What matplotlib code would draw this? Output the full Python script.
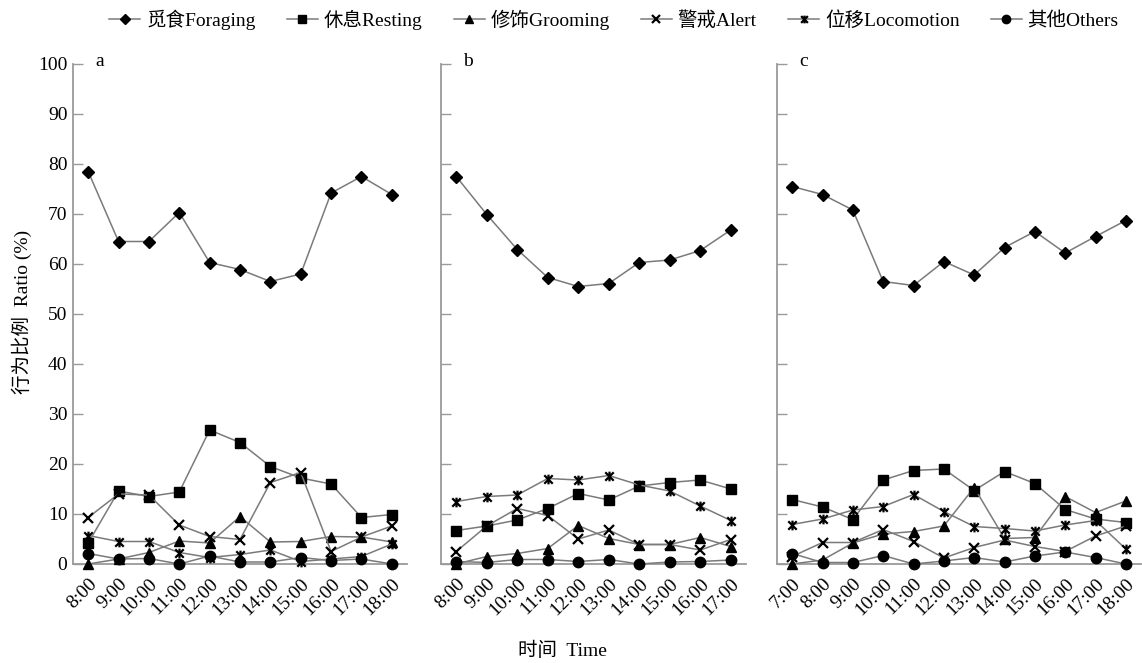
import matplotlib
matplotlib.use('Agg')
import matplotlib.pyplot as plt
from matplotlib.path import Path
from matplotlib.lines import Line2D

plt.rcParams['font.family'] = ['Liberation Serif', 'Noto Sans CJK SC']

# ---------------- data ----------------
times_a = ['8:00', '9:00', '10:00', '11:00', '12:00', '13:00', '14:00', '15:00', '16:00', '17:00', '18:00']
times_b = ['8:00', '9:00', '10:00', '11:00', '12:00', '13:00', '14:00', '15:00', '16:00', '17:00']
times_c = ['7:00', '8:00', '9:00', '10:00', '11:00', '12:00', '13:00', '14:00', '15:00', '16:00', '17:00', '18:00']

series_names = ['觅食Foraging', '休息Resting', '修饰Grooming', '警戒Alert', '位移Locomotion', '其他Others']
panel_labels = ['a', 'b', 'c']

foraging_a = [78.5, 64.5, 64.5, 70.3, 60.3, 58.9, 56.5, 58.0, 74.2, 77.5, 73.9]
resting_a = [4.2, 14.6, 13.5, 14.4, 26.8, 24.3, 19.5, 17.2, 16.0, 9.3, 9.9]
grooming_a = [0.0, 1.0, 2.3, 4.6, 4.2, 9.5, 4.4, 4.5, 5.5, 5.4, 4.4]
alert_a = [9.3, 14.0, 13.8, 7.8, 5.5, 4.9, 16.3, 18.3, 2.5, 5.4, 7.6]
locomotion_a = [5.7, 4.5, 4.5, 2.3, 1.3, 1.9, 2.8, 0.5, 1.0, 1.5, 4.0]
others_a = [2.1, 1.0, 1.1, 0.0, 1.6, 0.4, 0.4, 1.3, 0.7, 1.0, 0.0]

foraging_b = [77.5, 69.9, 62.9, 57.3, 55.5, 56.1, 60.3, 60.8, 62.7, 66.8]
resting_b = [6.7, 7.6, 8.8, 11.1, 14.1, 12.8, 15.6, 16.3, 16.8, 15.0]
grooming_b = [0.0, 1.5, 2.1, 3.1, 7.7, 5.1, 3.9, 3.9, 5.3, 3.5]
alert_b = [2.5, 7.6, 11.1, 9.7, 5.0, 6.8, 3.9, 3.9, 2.8, 4.9]
locomotion_b = [12.5, 13.5, 13.8, 17.1, 16.8, 17.7, 15.8, 14.6, 11.6, 8.7]
others_b = [0.5, 0.3, 0.9, 0.9, 0.5, 0.9, 0.0, 0.4, 0.5, 0.8]

foraging_c = [75.5, 73.9, 70.8, 56.5, 55.7, 60.5, 57.8, 63.3, 66.5, 62.2, 65.5, 68.7]
resting_c = [12.9, 11.4, 8.9, 16.8, 18.7, 19.0, 14.7, 18.5, 16.1, 10.9, 9.0, 8.3]
grooming_c = [0.0, 0.8, 4.2, 6.0, 6.5, 7.6, 15.3, 5.1, 5.3, 13.5, 10.3, 12.6]
alert_c = [1.5, 4.3, 4.3, 6.9, 4.5, 1.2, 3.3, 4.8, 3.5, 2.5, 5.6, 7.6]
locomotion_c = [7.9, 9.0, 10.8, 11.5, 13.9, 10.5, 7.5, 7.1, 6.6, 7.8, 8.7, 3.0]
others_c = [2.1, 0.3, 0.3, 1.7, 0.0, 0.6, 1.3, 0.4, 1.6, 2.4, 1.3, 0.0]

panels = [
    (times_a, [foraging_a, resting_a, grooming_a, alert_a, locomotion_a, others_a]),
    (times_b, [foraging_b, resting_b, grooming_b, alert_b, locomotion_b, others_b]),
    (times_c, [foraging_c, resting_c, grooming_c, alert_c, locomotion_c, others_c]),
]

# ---------------- styles ----------------
star = Path([(-1, -1), (1, 1), (-1, 1), (1, -1), (0, -1.15), (0, 1.15)],
            [Path.MOVETO, Path.LINETO, Path.MOVETO, Path.LINETO, Path.MOVETO, Path.LINETO])

styles = [
    dict(marker='D', ms=6.5, mfc='k', mec='k'),
    dict(marker='s', ms=7.5, mfc='k', mec='k'),
    dict(marker='^', ms=7.5, mfc='k', mec='k'),
    dict(marker='x', ms=7, mfc='none', mec='k', mew=1.6),
    dict(marker=star, ms=7, mfc='none', mec='k', mew=1.6),
    dict(marker='o', ms=7.5, mfc='k', mec='k'),
]
line_color = '#7a7a7a'
spine_color = '#9a9a9a'

W, H = 1142, 663
fig = plt.figure(figsize=(W / 100, H / 100), dpi=100)

# axes positions (pixels): left, right
px = [(73, 407), (441, 746), (777, 1141)]
top_px, bot_px = 64, 564

for i, ((times, data), (l, r)) in enumerate(zip(panels, px)):
    ax = fig.add_axes([l / W, 1 - bot_px / H, (r - l) / W, (bot_px - top_px) / H])
    x = list(range(len(times)))
    for vals, st in zip(data, styles):
        ax.plot(x, vals, color=line_color, lw=1.1, clip_on=False, zorder=3, **st)
    ax.set_xlim(-0.5, len(times) - 0.5)
    ax.set_ylim(0, 100)
    ax.set_yticks(range(0, 101, 10))
    ax.set_xticks(x)
    ax.set_xticklabels(times, rotation=45, ha='right', va='top', rotation_mode='anchor', fontsize=14)
    if i == 0:
        ax.tick_params(axis='y', labelsize=14)
    else:
        ax.tick_params(axis='y', labelleft=False)
    ax.tick_params(axis='y', direction='in', length=7, width=1, color=spine_color, pad=4)
    ax.tick_params(axis='x', length=0, pad=8)
    for s in ['top', 'right']:
        ax.spines[s].set_visible(False)
    for s in ['left', 'bottom']:
        ax.spines[s].set_color(spine_color)
        ax.spines[s].set_linewidth(1.3)
    ax.text(27 / (r - l), 1.005, panel_labels[i], transform=ax.transAxes,
            fontsize=14, ha='center', va='center')

fig.text(22 / W, 1 - 312 / H, '行为比例  Ratio (%)', rotation=90, ha='center', va='center', fontsize=14)
fig.text(562 / W, 1 - 651 / H, '时间  Time', ha='center', va='center', fontsize=14)

handles = [Line2D([], [], color=line_color, lw=1.1, **{**st, 'ms': st['ms'] * 0.8}) for st in styles]
fig.legend(handles, series_names, loc='center', bbox_to_anchor=(614 / W, 1 - 20 / H), ncol=6,
           frameon=False, fontsize=14, handlelength=1.6, handletextpad=0.3, columnspacing=1.6)

fig.savefig('out.png', dpi=100)
